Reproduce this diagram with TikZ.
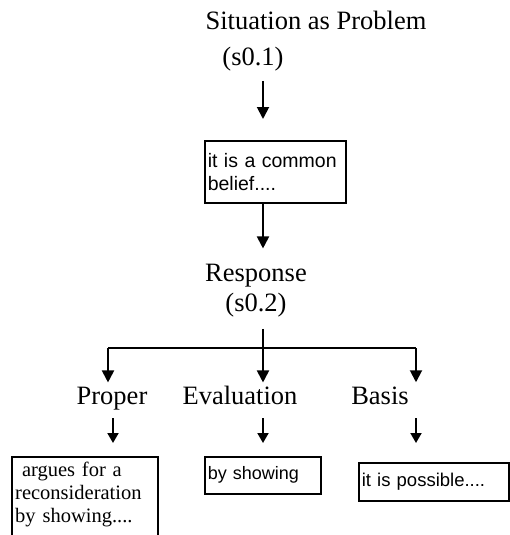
\documentclass[tikz,border=0pt]{standalone}
\usepackage{fontspec}
\setmainfont{Liberation Serif}
\newfontfamily\boxsans{Liberation Sans}
\usetikzlibrary{arrows.meta}
\hyphenpenalty=10000
\exhyphenpenalty=10000
\begin{document}
\begin{tikzpicture}[x=1pt,y=-1pt,
  heading/.style={font=\fontsize{26.5}{28}\selectfont, inner sep=0pt, anchor=base},
  arr/.style={line width=1.9pt, -{Triangle[width=12pt,length=12pt]}},
  smallarr/.style={line width=1.9pt, -{Triangle[width=11pt,length=10pt]}},
  conn/.style={line width=1.9pt},
  framebox/.style={draw, line width=1.5pt, anchor=north west, align=left,
    inner xsep=3pt, inner ysep=2pt}]
\useasboundingbox (0,0) rectangle (510,535);
\clip (0,0) rectangle (510,535);

% headings
\node[heading] (sit)  at (316,30)  {Situation as Problem};
\node[heading] (s01)  at (253,66)  {(s0.1)};
\node[heading] (resp) at (256,281) {Response};
\node[heading] (s02)  at (256,311) {(s0.2)};
\node[heading] (prop) at (112,404) {Proper};
\node[heading] (eval) at (240,404) {Evaluation};
\node[heading] (basis) at (380,404) {Basis};

% first text box
\node[framebox, text width=135pt, minimum height=62pt,
      font=\boxsans\fontsize{19.5}{23}\selectfont] (belief) at (204,140)
  {it is a common\\belief....};

% lower text boxes
\node[framebox, text width=110pt, minimum height=37pt,
      font=\boxsans\fontsize{18}{20}\selectfont] (show) at (204,456)
  {by showing};
\node[framebox, text width=144pt, minimum height=38pt,
      font=\boxsans\fontsize{18.5}{20}\selectfont] (poss) at (358,462)
  {it is possible....};
% open-bottom box running off the lower edge
\node[anchor=north west, align=left, text width=142pt, inner sep=0pt,
      font=\fontsize{20.5}{23}\selectfont] (recon) at (15,462)
  {\ argues for a\\reconsideration\\by showing....};
\draw[line width=1.5pt] (12,545) -- (12,457) -- (158,457) -- (158,545);

% main column
\coordinate (col) at (263,0);
\draw[arr, shorten <=9pt, shorten >=21pt] (s01.south -| col) -- (col |- belief.north);
\draw[arr, shorten >=15pt] (col |- belief.south) -- (col |- resp.north);

% split below Response
\coordinate (split) at (263,348);
\coordinate (lcorner) at (108,348);
\coordinate (rcorner) at (416,348);
\draw[conn] (lcorner) -- (rcorner);
\draw[arr, shorten <=12pt, shorten >=4pt] (s02.south -| split) -- (split |- prop.north);
\draw[arr, shorten >=4pt] (lcorner) -- (lcorner |- prop.north);
\draw[arr, shorten >=4pt] (rcorner) -- (rcorner |- basis.north);

% short arrows to the text boxes
\draw[smallarr, shorten <=14pt, shorten >=13pt] (prop.base -| 113,0) -- (113,456);
\draw[smallarr, shorten <=14pt, shorten >=13pt] (eval.base -| split) -- (split |- show.north);
\draw[smallarr, shorten <=14pt, shorten >=13pt] (eval.base -| rcorner) -- (rcorner |- show.north);
\end{tikzpicture}
\end{document}
